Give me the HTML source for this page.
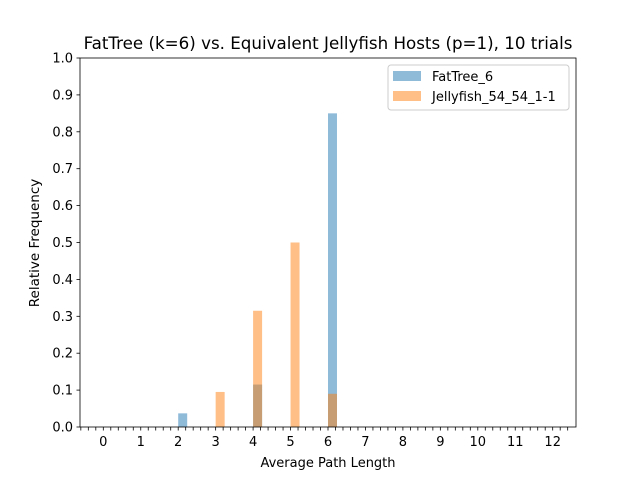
<!DOCTYPE html>
<html><head><meta charset="utf-8"><style>
body{margin:0;background:#fff;font-family:"Liberation Sans","DejaVu Sans",sans-serif}
svg text{font-family:"DejaVu Sans","Liberation Sans",sans-serif}
</style></head><body>
<svg id="chart" width="640" height="480" xmlns="http://www.w3.org/2000/svg">
<rect width="640" height="480" fill="#fff"/>
<g id="bars"></g>
<g id="axes"></g>
</svg>
<script>
const xTickLabels = [0,1,2,3,4,5,6,7,8,9,10,11,12];
const yTickLabels = [0.0,0.1,0.2,0.3,0.4,0.5,0.6,0.7,0.8,0.9,1.0];
const fatTreeBins = [2,4,6];
const fatTreeValues = [0.037,0.115,0.85];
const jellyBins = [3,4,5,6];
const jellyValues = [0.095,0.315,0.5,0.09];
const barWidth = 0.24;

const L=80,R=576,T=58,B=427;
const x0=103.3, xs=37.45;
function X(v){return x0+v*xs;}
function Y(v){return B-(B-T)*v;}
const NS="http://www.w3.org/2000/svg";
const bars=document.getElementById('bars');
const axes=document.getElementById('axes');
function mk(tag,attrs,parent){const e=document.createElementNS(NS,tag);for(const k in attrs)e.setAttribute(k,attrs[k]);parent.appendChild(e);return e;}

fatTreeBins.forEach((b,i)=>{
  const r=mk('rect',{x:X(b),y:Y(fatTreeValues[i]),width:barWidth*xs,height:B-Y(fatTreeValues[i]),fill:'#1f77b4','fill-opacity':0.5},bars);
  
  
});
jellyBins.forEach((b,i)=>{
  const r=mk('rect',{x:X(b),y:Y(jellyValues[i]),width:barWidth*xs,height:B-Y(jellyValues[i]),fill:'#ff7f0e','fill-opacity':0.5},bars);
  
  
});

for(let v=-0.6;v<=12.41;v+=0.2){
  const vv=Math.round(v*10)/10;
  const px=X(vv); if(px<L||px>R) continue;
  mk('line',{x1:px,x2:px,y1:B,y2:B+3.5,stroke:'#000','stroke-width':0.8},axes);
}
xTickLabels.forEach(v=>{
  const t=mk('text',{x:X(v),y:B+19,'text-anchor':'middle','font-size':13,fill:'#000'},axes);
  t.textContent=v;
  
  
});
yTickLabels.forEach(v=>{
  mk('line',{x1:L-3.5,x2:L,y1:Y(v),y2:Y(v),stroke:'#000','stroke-width':0.8},axes);
  const t=mk('text',{x:L-7,y:Y(v)+4.5,'text-anchor':'end','font-size':13,fill:'#000'},axes);
  t.textContent=v.toFixed(1);
  
  
});
mk('rect',{x:L,y:T,width:R-L,height:B-T,fill:'none',stroke:'#000','stroke-width':0.8},axes);
</script>
<svg width="640" height="480" style="position:absolute;left:0;top:0">
<text x="328" y="49" text-anchor="middle" font-size="16.7" fill="#000">FatTree (k=6) vs. Equivalent Jellyfish Hosts (p=1), 10 trials</text>
<text x="328" y="467" text-anchor="middle" font-size="13" fill="#000">Average Path Length</text>
<text transform="translate(39,243) rotate(-90)" text-anchor="middle" font-size="13.5" fill="#000">Relative Frequency</text>
<g>
<rect x="388" y="65" width="181" height="45" rx="3" fill="#fff" fill-opacity="0.8" stroke="#ccc" stroke-width="1"/>
<rect x="393" y="71" width="28" height="10" fill="#1f77b4" fill-opacity="0.5"/>
<text x="432" y="81" font-size="13" fill="#000">FatTree_6</text>
<rect x="393" y="91" width="28" height="10" fill="#ff7f0e" fill-opacity="0.5"/>
<text x="432" y="101" font-size="13" fill="#000">Jellyfish_54_54_1-1</text>
</g>
</svg>
</body></html>
